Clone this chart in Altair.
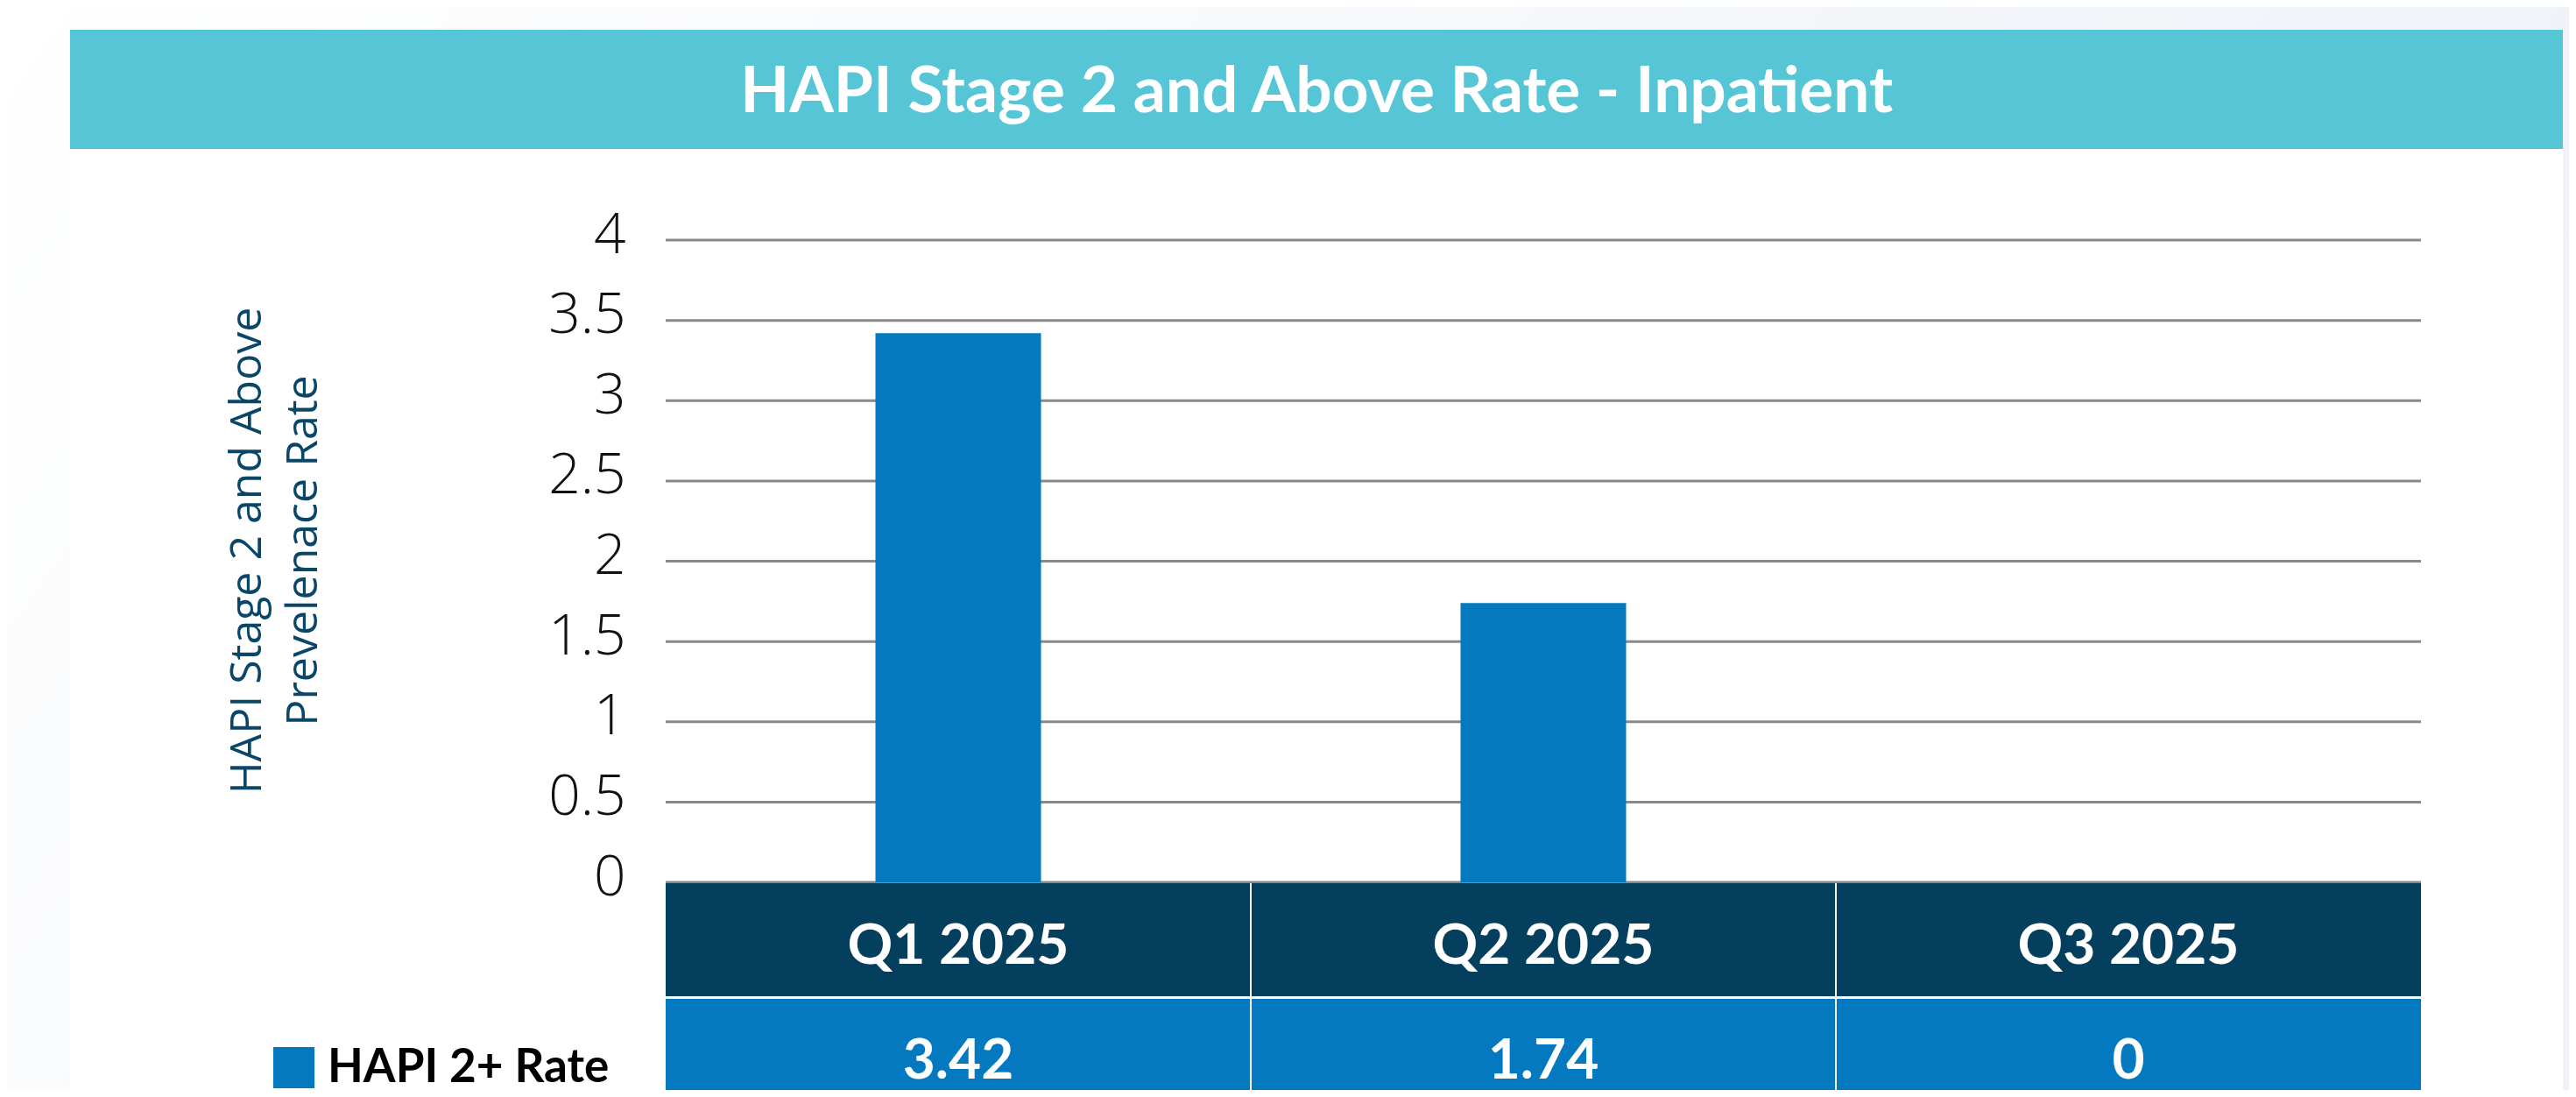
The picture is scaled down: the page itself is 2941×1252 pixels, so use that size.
import altair as alt
import pandas as pd

# ---- data ----
quarters = ["Q1 2025", "Q2 2025", "Q3 2025"]
rates = [3.42, 1.74, 0]
series_name = "HAPI 2+ Rate"
y_ticks = [0, 0.5, 1, 1.5, 2, 2.5, 3, 3.5, 4]
chart_title = "HAPI Stage 2 and Above Rate - Inpatient"
y_title = ["HAPI Stage 2 and Above", "Prevelenace Rate"]

df = pd.DataFrame({"quarter": quarters, "rate": rates, "series": [series_name] * len(quarters)})
ticks_df = pd.DataFrame({"tick": y_ticks})
one = pd.DataFrame({"k": [0]})

# ---- layout (plot area placed by padding) ----
W, H = 2004, 733
PL, PT, PR, PB = 752, 266, 169, 237

BAR_BLUE = "#0579bf"
NAVY = "#053f5e"
TEAL = "#56c6d6"

x_scale = alt.Scale(domain=quarters, paddingInner=0, paddingOuter=0)
x_enc = alt.X("quarter:N", sort=quarters, scale=x_scale, axis=None)
y_scale = alt.Scale(domain=[0, 4], nice=False)

y_axis = alt.Axis(
    values=y_ticks, format="~g", grid=False, domain=False, ticks=False,
    labelPadding=46, labelFont="Open Sans", labelFontSize=64, labelFontWeight=300,
    labelColor="#111111", labelOffset=-5,
    title=y_title, titleFont="Open Sans", titleFontSize=50, titleFontWeight="normal",
    titleColor="#0a4668", titleX=-478, titleY=354, titleAngle=270,
    titleAlign="center", titleBaseline="middle", titleLineHeight=64, zindex=1,
)

bg = alt.Chart(one).mark_rect(
    fill=alt.LinearGradient(
        gradient="linear",
        stops=[alt.GradientStop(color="#ffffff", offset=0),
               alt.GradientStop(color="#eef2f7", offset=1)],
        x1=0, x2=1, y1=0, y2=0.3,
    )
).encode(x=alt.value(-PL), x2=alt.value(W + PR), y=alt.value(-PT), y2=alt.value(H + PB))

panel = alt.Chart(one).mark_rect(color="#ffffff").encode(
    x=alt.value(-680), x2=alt.value(2166), y=alt.value(-104), y2=alt.value(H + PB)
)

header = alt.Chart(one).mark_rect(color=TEAL).encode(
    x=alt.value(-680), x2=alt.value(2166), y=alt.value(-240), y2=alt.value(-104)
)

header_text = alt.Chart(one).mark_text(
    text=chart_title, font="Lato", fontSize=73, fontWeight="bold", color="#ffffff",
    align="center", baseline="alphabetic"
).encode(x=alt.value(743), y=alt.value(-146))

grid = alt.Chart(ticks_df).mark_rule(color="#898989", strokeWidth=3).encode(
    y=alt.Y("tick:Q", scale=y_scale, axis=y_axis, title=y_title)
)

bars = alt.Chart(df).mark_bar(size=189).encode(
    x=x_enc,
    y=alt.Y("rate:Q", scale=y_scale, axis=y_axis, title=y_title),
    color=alt.Color(
        "series:N",
        scale=alt.Scale(domain=[series_name], range=[BAR_BLUE]),
        legend=alt.Legend(
            title=None, orient="none", legendX=-451, legendY=918, symbolType="square",
            symbolSize=2209, symbolStrokeWidth=0, symbolOpacity=1, labelFont="Lato",
            labelFontSize=53, labelFontWeight="bold", labelColor="#000000", labelOffset=12,
            labelLimit=1000, padding=0,
        ),
    ),
)

dark = alt.Chart(df).mark_rect(color=NAVY).encode(
    x=x_enc, y=alt.value(734), y2=alt.value(863)
)
light = alt.Chart(df).mark_rect(color=BAR_BLUE).encode(
    x=x_enc, y=alt.value(866), y2=alt.value(H + PB)
)
seps = alt.Chart(df).transform_filter(alt.datum.quarter != quarters[0]).mark_rule(
    color="#ffffff", strokeWidth=2
).encode(
    x=alt.X("quarter:N", sort=quarters, scale=x_scale, axis=None, bandPosition=0),
    y=alt.value(734), y2=alt.value(H + PB),
)

cat_text = alt.Chart(df).mark_text(
    font="Lato", fontSize=64, fontWeight="bold", color="#ffffff", baseline="alphabetic"
).encode(x=x_enc, y=alt.value(826), text="quarter:N")

val_text = alt.Chart(df).mark_text(
    font="Lato", fontSize=64, fontWeight="bold", color="#ffffff", baseline="alphabetic"
).encode(x=x_enc, y=alt.value(957), text=alt.Text("rate:Q", format="~g"))

chart = alt.layer(
    bg, panel, header, header_text, grid, bars, dark, light, seps, cat_text, val_text
).properties(
    width=W, height=H,
    padding={"left": PL, "top": PT, "right": PR, "bottom": PB},
    autosize=alt.AutoSizeParams(type="none"),
).configure_view(stroke=None)

chart.save("out.html", embed_options={"renderer": "svg", "actions": False})
